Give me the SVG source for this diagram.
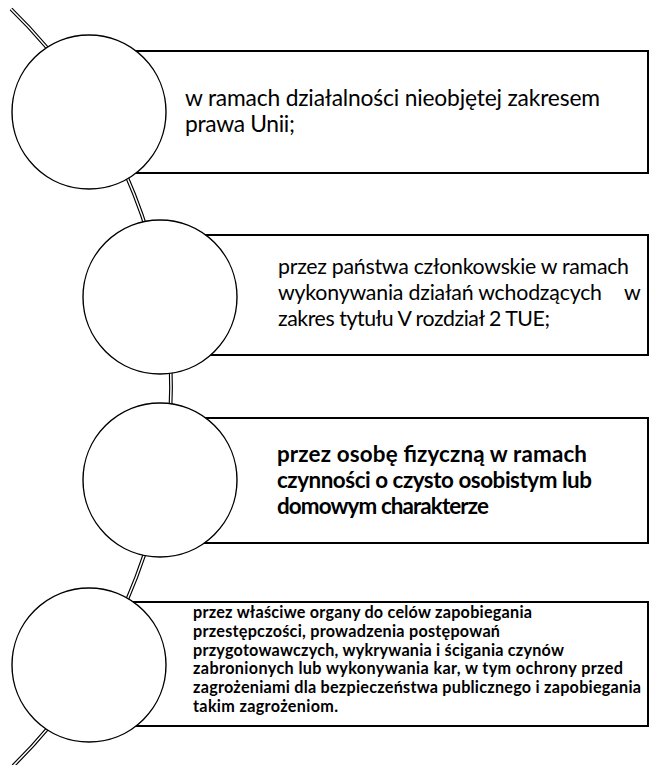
<svg xmlns="http://www.w3.org/2000/svg" width="651" height="765" viewBox="0 0 651 765">
<style>
.box{fill:#fff;stroke:#000;stroke-width:2}
.dot{fill:#fff;stroke:#000;stroke-width:1.4}
.t{font-family:Lato,"Liberation Sans",sans-serif;fill:#000}
.s1{font-size:22.8px}
.s2{font-size:21.3px}
.s3{font-size:22.4px;font-weight:bold}
.s4{font-size:16.2px;font-weight:bold}
.rail{fill:none;stroke:#000;stroke-width:3.8}
.rail-in{fill:none;stroke:#fff;stroke-width:1.5}
</style>
<rect width="651" height="765" fill="#fff"/>
<g id="connectors">
<path class="rail" d="M 11 9 A 530 530 0 0 1 13 766"/>
<path class="rail-in" d="M 11 9 A 530 530 0 0 1 13 766"/>
</g>
<g id="node1">
<rect class="box" x="89" y="51" width="559" height="122"/>
<circle class="dot" cx="89" cy="112" r="77"/>
<text class="t s1" x="185" y="106" textLength="415">w ramach działalności nieobjętej zakresem</text>
<text class="t s1" x="185" y="132" textLength="110">prawa Unii;</text>
</g>
<g id="node2">
<rect class="box" x="160" y="235" width="488" height="120"/>
<circle class="dot" cx="160" cy="297" r="77"/>
<text class="t s2" x="278" y="274" textLength="351">przez państwa członkowskie w ramach</text>
<text class="t s2" y="300"><tspan x="278" textLength="324">wykonywania działań wchodzących</tspan><tspan x="624">w</tspan></text>
<text class="t s2" x="278" y="326" textLength="272">zakres tytułu V rozdział 2 TUE;</text>
</g>
<g id="node3">
<rect class="box" x="160" y="418" width="488" height="125"/>
<circle class="dot" cx="160" cy="480" r="77"/>
<text class="t s3" x="277" y="462" textLength="310">przez osobę fizyczną w ramach</text>
<text class="t s3" x="277" y="488" textLength="315">czynności o czysto osobistym lub</text>
<text class="t s3" x="277" y="514" textLength="212">domowym charakterze</text>
</g>
<g id="node4">
<rect class="box" x="89" y="602" width="559" height="124"/>
<circle class="dot" cx="89" cy="665" r="77"/>
<text class="t s4" x="193" y="618" textLength="339">przez właściwe organy do celów zapobiegania</text>
<text class="t s4" x="193" y="636.8" textLength="307">przestępczości, prowadzenia postępowań</text>
<text class="t s4" x="193" y="655.6" textLength="371">przygotowawczych, wykrywania i ścigania czynów</text>
<text class="t s4" x="193" y="674.4" textLength="430">zabronionych lub wykonywania kar, w tym ochrony przed</text>
<text class="t s4" x="193" y="693.2" textLength="448">zagrożeniami dla bezpieczeństwa publicznego i zapobiegania</text>
<text class="t s4" x="193" y="712" textLength="145">takim zagrożeniom.</text>
</g>
</svg>
